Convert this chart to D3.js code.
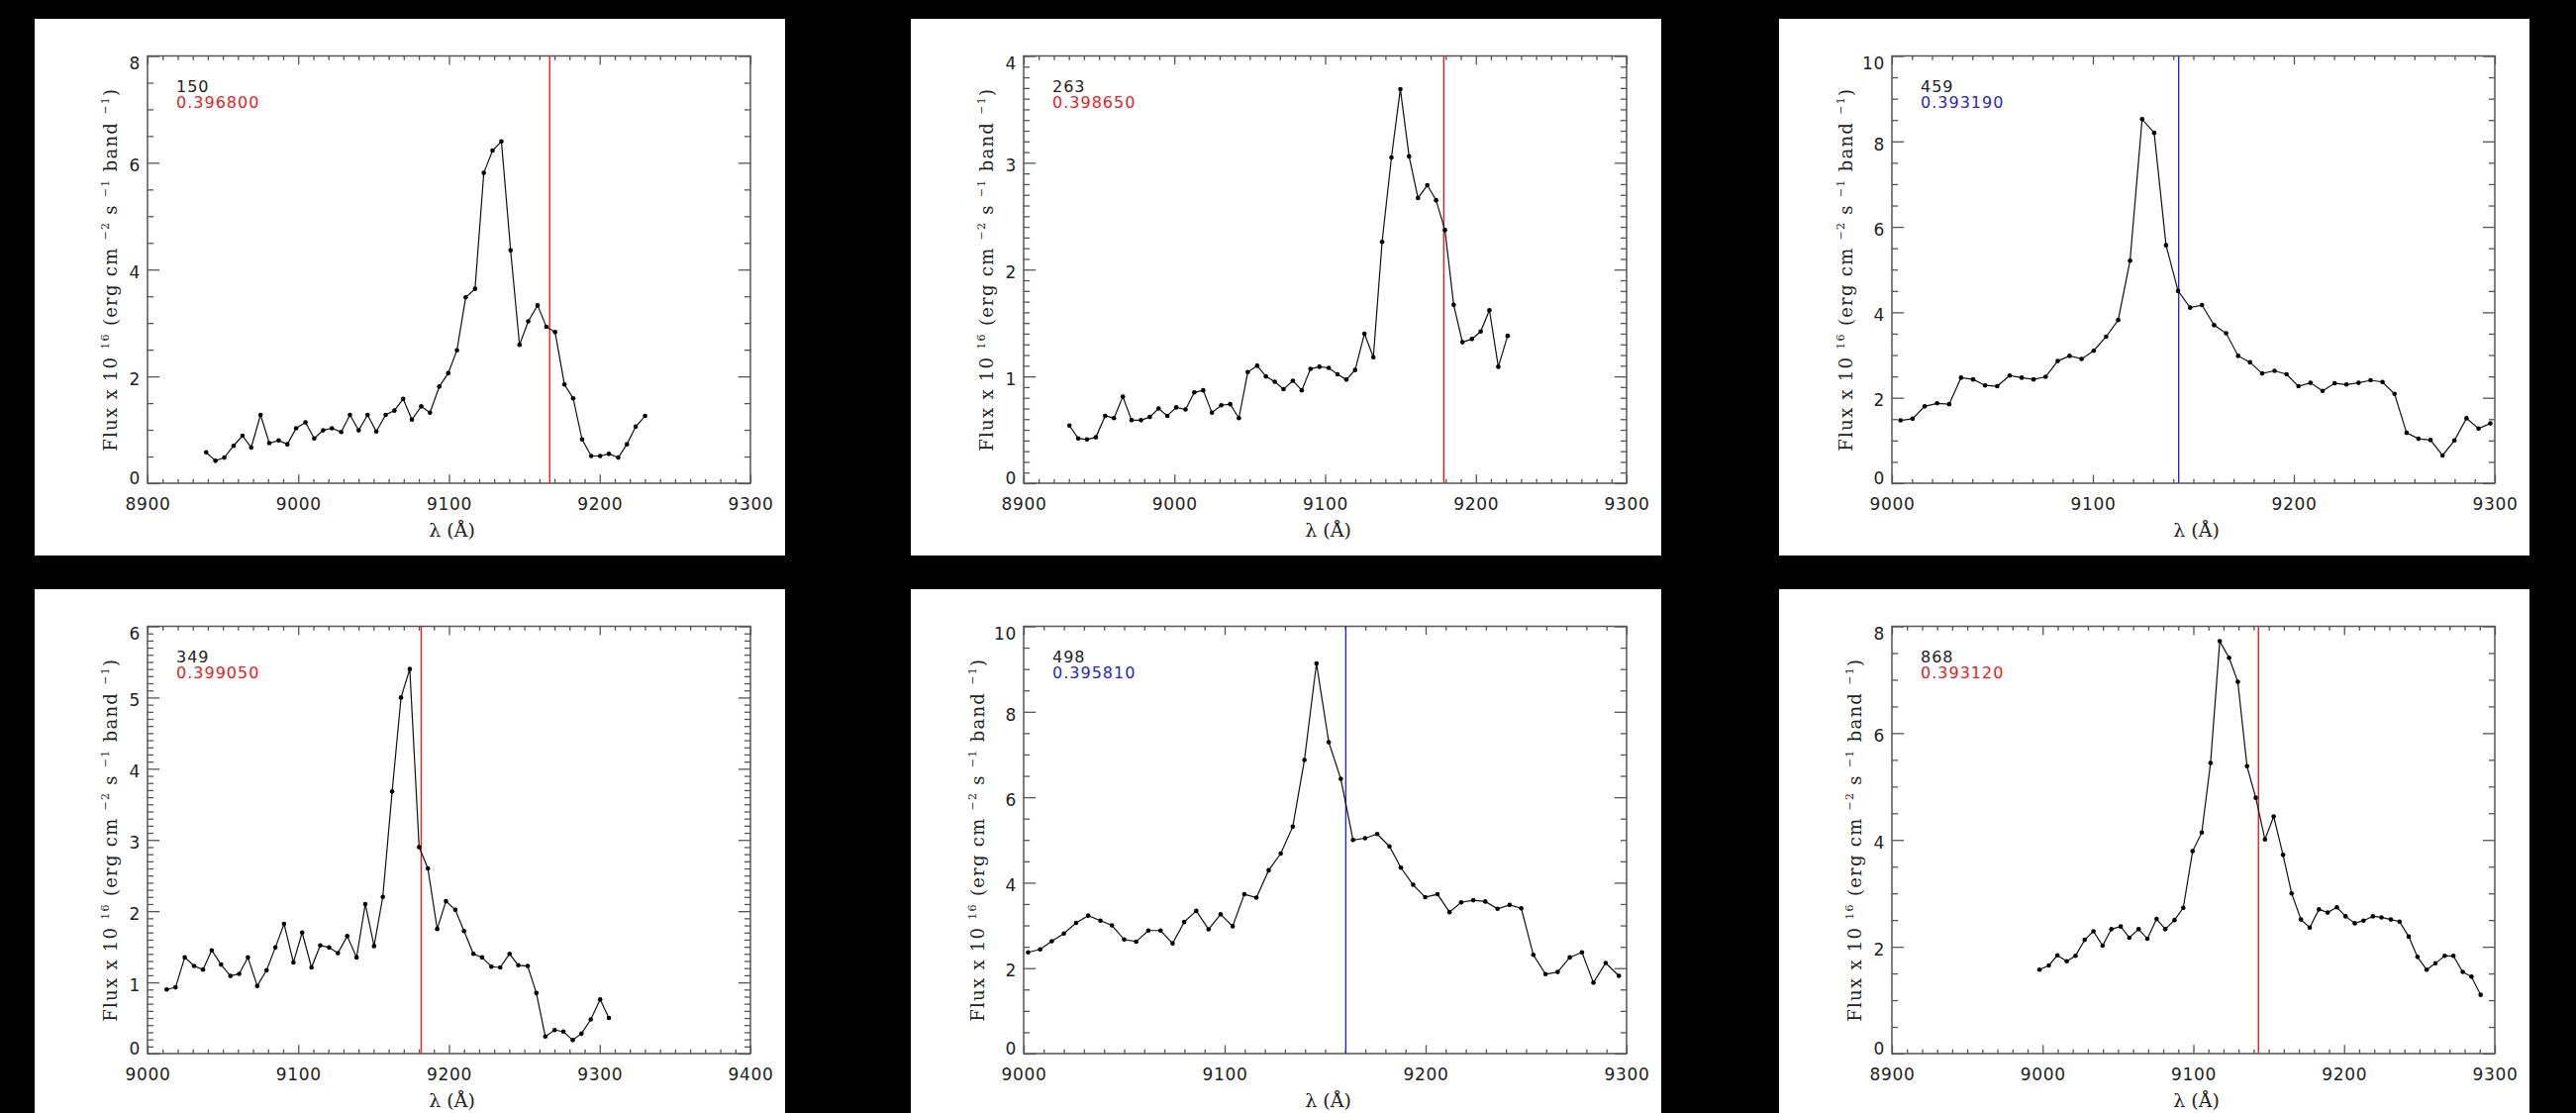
<!DOCTYPE html>
<html>
<head>
<meta charset="utf-8">
<script src="https://cdn.jsdelivr.net/npm/d3@7"></script>
<style>
  html, body { margin: 0; padding: 0; background: #000; }
  svg { display: block; }
  .tick text { font-family: "DejaVu Sans", sans-serif; font-size: 17px; fill: #222; letter-spacing: 0.7px; }
</style>
</head>
<body>
<svg id="chart" width="2602" height="1124"></svg>
<script>
/* Panel meta data */
const ids = ["150", "263", "459", "349", "498", "868"];
const redshifts = ["0.396800", "0.398650", "0.393190", "0.399050", "0.395810", "0.393120"];
const flags = ["red", "red", "blue", "red", "blue", "red"];
const markerWave = [9166.8, 9178.7, 9142.7, 9181.6, 9160.3, 9143.2];
const xDomains = [[8900, 9300], [8900, 9300], [9000, 9300], [9000, 9400], [9000, 9300], [8900, 9300]];
const yMax = [8, 4, 10, 6, 10, 8];
const yMajor = [2, 1, 2, 1, 2, 2];
const yMinor = [0.5, 0.1, 0.5, 0.1, 0.5, 0.5];

/* Spectra: wavelength (A) and flux x 1e16 */
const wave150 = [8938.9, 8945.1, 8951.0, 8957.1, 8963.0, 8968.8, 8975.0, 8980.8, 8987.0, 8992.8, 8998.6, 9004.8, 9010.6, 9016.5, 9022.3, 9028.5, 9034.3, 9040.1, 9046.0, 9051.8, 9058.0, 9063.8, 9069.6, 9075.4, 9081.6, 9087.4, 9093.6, 9099.5, 9105.3, 9111.1, 9117.3, 9123.1, 9128.9, 9134.8, 9140.9, 9146.8, 9152.6, 9158.8, 9164.6, 9170.4, 9176.6, 9182.4, 9188.3, 9194.4, 9200.3, 9206.1, 9212.3, 9218.1, 9223.9, 9230.1];
const flux150 = [0.58, 0.42, 0.48, 0.70, 0.89, 0.67, 1.28, 0.75, 0.80, 0.73, 1.03, 1.14, 0.84, 0.99, 1.03, 0.96, 1.28, 0.99, 1.28, 0.97, 1.28, 1.36, 1.58, 1.19, 1.44, 1.32, 1.81, 2.06, 2.49, 3.48, 3.64, 5.81, 6.23, 6.40, 4.36, 2.59, 3.03, 3.33, 2.93, 2.83, 1.85, 1.59, 0.82, 0.51, 0.51, 0.55, 0.48, 0.73, 1.06, 1.26];

const wave263 = [8930.3, 8936.2, 8942.0, 8947.9, 8954.1, 8959.9, 8965.8, 8971.6, 8977.8, 8983.7, 8989.5, 8995.3, 9001.2, 9007.4, 9013.2, 9019.1, 9024.9, 9031.1, 9037.0, 9042.8, 9048.7, 9054.9, 9060.7, 9066.6, 9072.4, 9078.6, 9084.5, 9090.3, 9096.2, 9102.4, 9108.2, 9114.1, 9119.9, 9126.1, 9132.0, 9137.8, 9144.0, 9149.9, 9155.7, 9161.6, 9167.8, 9173.6, 9179.5, 9185.3, 9191.1, 9197.4, 9203.2, 9209.0, 9214.9, 9221.1];
const flux263 = [0.54, 0.42, 0.41, 0.43, 0.63, 0.61, 0.81, 0.59, 0.59, 0.62, 0.70, 0.63, 0.71, 0.69, 0.85, 0.87, 0.66, 0.73, 0.74, 0.61, 1.04, 1.10, 1.00, 0.95, 0.88, 0.96, 0.87, 1.07, 1.09, 1.08, 1.02, 0.97, 1.06, 1.40, 1.18, 2.26, 3.05, 3.69, 3.06, 2.67, 2.79, 2.65, 2.37, 1.67, 1.32, 1.35, 1.42, 1.62, 1.09, 1.38];

const wave459 = [9004.3, 9010.3, 9016.3, 9022.5, 9028.5, 9034.4, 9040.4, 9046.4, 9052.4, 9058.6, 9064.6, 9070.5, 9076.5, 9082.5, 9088.4, 9094.4, 9100.4, 9106.6, 9112.6, 9118.5, 9124.5, 9130.5, 9136.4, 9142.4, 9148.4, 9154.3, 9160.3, 9166.3, 9172.3, 9178.2, 9184.2, 9190.4, 9196.4, 9202.3, 9208.3, 9214.3, 9220.3, 9226.2, 9232.2, 9238.2, 9244.1, 9250.1, 9256.1, 9262.0, 9268.0, 9274.0, 9279.9, 9285.9, 9291.9, 9297.8];
const flux459 = [1.47, 1.51, 1.80, 1.87, 1.85, 2.47, 2.43, 2.29, 2.27, 2.52, 2.47, 2.43, 2.49, 2.86, 2.98, 2.91, 3.10, 3.43, 3.82, 5.21, 8.52, 8.20, 5.57, 4.50, 4.11, 4.17, 3.70, 3.51, 2.98, 2.83, 2.57, 2.63, 2.55, 2.27, 2.35, 2.16, 2.34, 2.31, 2.35, 2.41, 2.37, 2.09, 1.18, 1.04, 1.01, 0.65, 1.00, 1.52, 1.28, 1.40];

const wave349 = [9012.7, 9018.6, 9024.7, 9030.9, 9036.8, 9042.6, 9048.8, 9055.0, 9060.8, 9066.6, 9072.8, 9079.0, 9084.8, 9090.6, 9096.8, 9102.6, 9108.8, 9114.6, 9120.5, 9126.3, 9132.5, 9138.7, 9144.5, 9150.3, 9156.1, 9162.3, 9168.2, 9174.0, 9180.2, 9186.0, 9192.2, 9198.0, 9204.2, 9210.0, 9216.2, 9222.0, 9228.2, 9234.0, 9240.2, 9246.0, 9252.2, 9258.0, 9263.9, 9270.1, 9275.9, 9282.1, 9287.9, 9294.1, 9300.3, 9306.1];
const flux349 = [0.90, 0.93, 1.35, 1.23, 1.18, 1.45, 1.25, 1.09, 1.12, 1.35, 0.95, 1.17, 1.49, 1.82, 1.28, 1.70, 1.21, 1.52, 1.49, 1.41, 1.65, 1.35, 2.10, 1.51, 2.20, 3.68, 5.00, 5.40, 2.90, 2.60, 1.75, 2.14, 2.02, 1.72, 1.40, 1.35, 1.22, 1.21, 1.40, 1.24, 1.23, 0.85, 0.24, 0.33, 0.31, 0.19, 0.28, 0.48, 0.76, 0.50];

const wave498 = [9002.2, 9008.2, 9014.0, 9020.0, 9026.1, 9032.1, 9038.2, 9043.9, 9050.0, 9056.0, 9062.0, 9068.1, 9074.1, 9079.9, 9085.9, 9092.0, 9098.0, 9104.0, 9109.8, 9115.8, 9121.9, 9127.9, 9133.9, 9139.7, 9145.7, 9151.8, 9157.8, 9163.9, 9169.9, 9175.9, 9182.0, 9187.7, 9193.8, 9199.8, 9205.9, 9211.9, 9217.7, 9223.7, 9229.7, 9235.8, 9241.8, 9247.6, 9253.6, 9259.7, 9265.7, 9271.7, 9277.8, 9283.5, 9289.6, 9296.2];
const flux498 = [2.37, 2.44, 2.63, 2.81, 3.06, 3.23, 3.11, 3.00, 2.67, 2.62, 2.88, 2.88, 2.58, 3.08, 3.34, 2.91, 3.26, 2.98, 3.73, 3.65, 4.29, 4.68, 5.31, 6.87, 9.13, 7.29, 6.43, 5.00, 5.04, 5.14, 4.85, 4.35, 3.95, 3.66, 3.73, 3.31, 3.54, 3.59, 3.56, 3.39, 3.48, 3.40, 2.31, 1.86, 1.91, 2.25, 2.37, 1.66, 2.12, 1.82];

const wave868 = [8997.9, 9004.1, 9009.8, 9016.0, 9021.8, 9027.9, 9033.7, 9039.8, 9045.6, 9051.8, 9057.5, 9063.7, 9069.5, 9075.6, 9081.4, 9087.5, 9093.3, 9099.5, 9105.6, 9111.4, 9117.5, 9123.7, 9129.5, 9135.6, 9141.4, 9147.5, 9153.3, 9159.5, 9165.2, 9171.4, 9177.2, 9183.3, 9189.1, 9195.2, 9201.0, 9207.1, 9212.9, 9219.1, 9224.8, 9231.0, 9236.8, 9242.9, 9248.7, 9254.8, 9260.6, 9266.8, 9272.5, 9278.7, 9284.5, 9290.6];
const flux868 = [1.57, 1.65, 1.84, 1.73, 1.83, 2.13, 2.29, 2.02, 2.33, 2.38, 2.17, 2.33, 2.15, 2.52, 2.33, 2.50, 2.73, 3.79, 4.14, 5.44, 7.72, 7.41, 6.96, 5.38, 4.79, 4.01, 4.44, 3.72, 3.00, 2.51, 2.36, 2.70, 2.64, 2.74, 2.57, 2.44, 2.49, 2.57, 2.55, 2.51, 2.47, 2.19, 1.81, 1.57, 1.69, 1.83, 1.83, 1.53, 1.44, 1.10];

const waves = [wave150, wave263, wave459, wave349, wave498, wave868];
const fluxes = [flux150, flux263, flux459, flux349, flux498, flux868];

// colours for the redshift text + marker line
const flagColor = { red: "#e2231f", blue: "#2828c0" };

// layout (px)
const panelLeft = [35, 920, 1797];
const panelTop = [19, 595];
const panelW = 758, panelH = 542;
const plotX = 114, plotY = 37.5, plotW = 609, plotH = 431.5;
const axisColor = "#555";
const titleLen = 367; // length of the rotated y title in the reference

var svg = d3.select("#chart");

/* style the tick lines of an axis group */
function styleAxis(sel) {
    sel.select(".domain").remove();
    sel.selectAll(".tick line").attr("stroke", axisColor).attr("stroke-width", 1.3);
}

/* Draw one spectrum panel */
function drawPanel(i) {
    var col = i % 3, row = Math.floor(i / 3);
    var g = svg.append("g").attr("transform", `translate(${panelLeft[col]},${panelTop[row]})`);

    g.append("rect").attr("width", panelW).attr("height", panelH).attr("fill", "#fff");

    var p = g.append("g").attr("transform", `translate(${plotX},${plotY})`);

    var x = d3.scaleLinear().domain(xDomains[i]).range([0, plotW]);
    var y = d3.scaleLinear().domain([0, yMax[i]]).range([plotH, 0]);

    // tick positions
    var xMaj = d3.range(xDomains[i][0], xDomains[i][1] + 1, 100);
    var xMin = d3.range(xDomains[i][0], xDomains[i][1] + 1, 10).filter(v => v % 100 !== 0);
    var nMaj = Math.round(yMax[i] / yMajor[i]);
    var yMaj = d3.range(0, nMaj + 1).map(k => k * yMajor[i]);
    var perMaj = Math.round(yMajor[i] / yMinor[i]);
    var yMin = d3.range(0, nMaj * perMaj + 1).filter(k => k % perMaj !== 0).map(k => +(k * yMinor[i]).toFixed(3));

    var xTick = 0.02 * plotH, yTick = 0.02 * plotW;

    // bottom axis with labels
    var bottom = p.append("g").attr("transform", `translate(0,${plotH})`)
        .call(d3.axisBottom(x).tickValues(xMaj).tickSize(-xTick).tickFormat(d3.format("d")));
    bottom.selectAll(".tick text").attr("y", 27.3).attr("dy", 0);
    styleAxis(bottom);
    styleAxis(p.append("g").attr("transform", `translate(0,${plotH})`)
        .call(d3.axisBottom(x).tickValues(xMin).tickSize(-xTick / 2).tickFormat("")));

    // top axis, no labels
    styleAxis(p.append("g").call(d3.axisTop(x).tickValues(xMaj).tickSize(-xTick).tickFormat("")));
    styleAxis(p.append("g").call(d3.axisTop(x).tickValues(xMin).tickSize(-xTick / 2).tickFormat("")));

    // left axis with labels, clamped inside the box like IDL
    var left = p.append("g")
        .call(d3.axisLeft(y).tickValues(yMaj).tickSize(-yTick).tickPadding(7).tickFormat(d3.format("d")));
    left.selectAll(".tick text").attr("dy", 0).attr("y", function (d) {
        var c = Math.max(7.2, Math.min(plotH - 5.7, y(d) + 2));
        return c + 6.2 - y(d);
    });
    styleAxis(left);
    styleAxis(p.append("g").call(d3.axisLeft(y).tickValues(yMin).tickSize(-yTick / 2).tickFormat("")));

    // right axis, no labels
    styleAxis(p.append("g").attr("transform", `translate(${plotW},0)`)
        .call(d3.axisRight(y).tickValues(yMaj).tickSize(-yTick).tickFormat("")));
    styleAxis(p.append("g").attr("transform", `translate(${plotW},0)`)
        .call(d3.axisRight(y).tickValues(yMin).tickSize(-yTick / 2).tickFormat("")));

    // frame
    p.append("rect").attr("width", plotW).attr("height", plotH)
        .attr("fill", "none").attr("stroke", axisColor).attr("stroke-width", 1.5);

    // marker line
    var mc = flagColor[flags[i]];
    p.append("line")
        .attr("x1", x(markerWave[i])).attr("x2", x(markerWave[i]))
        .attr("y1", 0).attr("y2", plotH)
        .attr("stroke", mc).attr("stroke-width", 1.4);

    // spectrum
    var pts = waves[i].map((w, k) => ({ w: w, f: fluxes[i][k] }));
    p.append("path").datum(pts)
        .attr("fill", "none").attr("stroke", "#111").attr("stroke-width", 1.2)
        .attr("d", d3.line().x(d => x(d.w)).y(d => y(d.f)));
    p.selectAll("circle.pt").data(pts).join("circle")
        .attr("class", "pt")
        .attr("cx", d => x(d.w)).attr("cy", d => y(d.f))
        .attr("r", 2.3).attr("fill", "#000");

    // id + redshift
    p.append("text").attr("x", 29).attr("y", 36.6)
        .style("font-family", "DejaVu Sans").style("font-size", "16px").style("letter-spacing", "1px")
        .attr("fill", "#222").text(ids[i]);
    p.append("text").attr("x", 29).attr("y", 52.3)
        .style("font-family", "DejaVu Sans").style("font-size", "16px").style("letter-spacing", "1px")
        .attr("fill", mc).text(redshifts[i]);

    // x title
    p.append("text").attr("x", plotW / 2 + 3).attr("y", plotH + 53.8)
        .attr("text-anchor", "middle")
        .style("font-family", "DejaVu Serif").style("font-size", "19px").attr("fill", "#222")
        .text("λ (Å)");

    // y title with superscripts
    var maxLen = d3.max(yMaj, v => String(v).length);
    var tx = -(23.4 + 8.1 * maxLen);
    var yt = p.append("text")
        .attr("transform", `translate(${tx},${plotH / 2}) rotate(-90)`)
        .attr("text-anchor", "middle")
        .style("font-family", "DejaVu Serif").style("font-size", "18px").attr("fill", "#222");
    var parts = [["Flux x 10 ", 0], ["16", 1], [" (erg cm ", 0], ["−2", 1], [" s ", 0], ["−1", 1], [" band ", 0], ["−1", 1], [")", 0]];
    var shift = 0;
    parts.forEach(function (pt) {
        var dy = pt[1] ? -8 - shift : -shift;
        shift = pt[1] ? -8 : 0;
        yt.append("tspan").attr("dy", dy)
            .style("font-size", pt[1] ? "11px" : "18px")
            .text(pt[0]);
    });
    // spread the glyphs so the title is as long as in the reference
    var natural = yt.node().getComputedTextLength();
    var nChars = parts.map(d => d[0]).join("").length;
    yt.style("letter-spacing", Math.max(0, (titleLen - natural) / nChars) + "px");
}

d3.range(6).forEach(drawPanel);
</script>
</body>
</html>
